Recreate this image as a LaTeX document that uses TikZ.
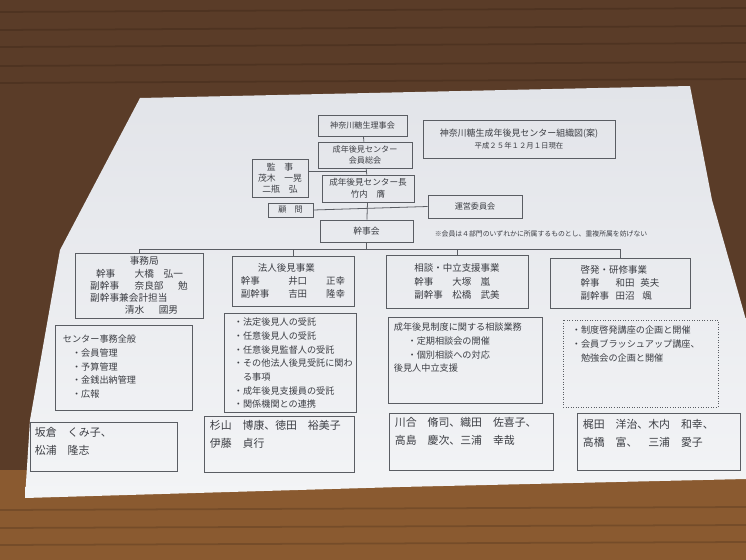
\documentclass[tikz,border=0pt]{standalone}
\usepackage{fontspec}
\setmainfont{Noto Sans CJK JP}
\usetikzlibrary{calc}
\newcommand{\pxu}{0.02cm}
\definecolor{woodc}{HTML}{5A3C28}
\definecolor{woodlow}{HTML}{8A5A30}
\definecolor{grain}{HTML}{3A2416}
\definecolor{papertop}{HTML}{E2E4E9}
\definecolor{paperlow}{HTML}{F3F4F6}
\definecolor{linec}{HTML}{5A5D63}
\definecolor{inkc}{HTML}{3C3E44}

\begin{document}
\begin{tikzpicture}[x=0.02cm,y=-0.02cm,
    box/.style={draw=linec, line width=0.45pt, inner sep=0pt, text=inkc},
    dept/.style={box, font=\fontsize{5.4}{7.6}\selectfont, align=left},
    top/.style={box, font=\fontsize{4.6}{5.8}\selectfont, align=center},
    body/.style={inner sep=0pt, text=inkc, align=left, font=\fontsize{5.2}{7.8}\selectfont},
    names/.style={inner sep=0pt, text=inkc, align=left, font=\fontsize{6.2}{10.6}\selectfont},
    link/.style={draw=linec, line width=0.45pt}]
  \useasboundingbox (0,0) rectangle (746,560);

  % table and sheet
  \fill[woodc] (0,0) rectangle (746,560);
  \fill[woodlow] (0,470) rectangle (746,560);
  \foreach \yy in {12,30,47,66,83}
    \draw[grain, opacity=0.35, line width=1pt] (0,\yy) -- (746,\yy-4);
  \foreach \yy in {510,528,545}
    \draw[grain, opacity=0.25, line width=1pt] (0,\yy) -- (746,\yy-3);
  \shade[top color=papertop, bottom color=paperlow]
    (140,98) -- (690,86) -- (712,200) -- (746,320) -- (746,479)
    -- (400,487) -- (25,498) -- (30,420) -- (60,250) -- cycle;

  % upper part
  \node[top, minimum width=89*\pxu, minimum height=21*\pxu] (rijikai) at (362.5,125.5) {神奈川糖生理事会};
  \node[top, minimum width=94*\pxu, minimum height=26*\pxu] (soukai) at (365,155) {成年後見センター\\会員総会};
  \node[top, minimum width=56*\pxu, minimum height=38*\pxu, font=\fontsize{5}{6.3}\selectfont] (kanji) at (280,178) {監　事\\茂木　一晃\\二瓶　弘};
  \node[top, minimum width=92*\pxu, minimum height=27*\pxu, font=\fontsize{4.9}{6.6}\selectfont] (chou) at (368,188.5) {成年後見センター長\\竹内　膺};
  \node[top, minimum width=45*\pxu, minimum height=14*\pxu] (komon) at (290.5,210) {顧　問};
  \node[top, minimum width=94*\pxu, minimum height=23*\pxu] (unei) at (475,206.5) {運営委員会};
  \node[top, minimum width=93*\pxu, minimum height=22*\pxu, font=\fontsize{5}{6}\selectfont] (kanjikai) at (366.5,231) {幹事会};
  \node[top, minimum width=192*\pxu, minimum height=38*\pxu, font=\fontsize{5.1}{7}\selectfont] (title) at (519,139)
    {神奈川糖生成年後見センター組織図(案)\\{\fontsize{4.2}{5}\selectfont 平成２５年１２月１日現在}};
  \node[inner sep=0pt, text=inkc, font=\fontsize{3.9}{5}\selectfont] (note) at (541,234)
    {※会員は４部門のいずれかに所属するものとし、重複所属を妨げない};

  \coordinate (mid) at ($(soukai.south)!0.5!(chou.north)$);
  \coordinate (bus) at (366.5,249);
  \draw[link] (rijikai) -- (soukai);
  \draw[link] (soukai) -- (chou);
  \draw[link] (chou) -- (kanjikai);
  \draw[link] (kanji.east |- mid) -- (mid);
  \draw[link] (komon.east) -- (unei.west);
  \draw[link] (kanjikai) -- (bus);

  % departments
  \node[dept, minimum width=128*\pxu, minimum height=65*\pxu, font=\fontsize{5.5}{6.9}\selectfont] (jimu) at (139,285.5)
    {\hspace*{4.1em}事務局\\
     \makebox[4.6em][l]{\hspace{0.6em}幹事}大橋\hspace{1em}弘一\\
     \makebox[4.6em][l]{副幹事}奈良部\hspace{1.5em}勉\\
     副幹事兼会計担当\\
     \hspace*{3.6em}清水\hspace{1.5em}國男};
  \node[dept, minimum width=122*\pxu, minimum height=50*\pxu] (houjin) at (293,281)
    {\hspace*{1.8em}法人後見事業\\
     \makebox[5em][l]{幹事}井口\hspace{2em}正幸\\
     \makebox[5em][l]{副幹事}吉田\hspace{2em}隆幸};
  \node[dept, minimum width=142*\pxu, minimum height=53*\pxu] (soudan) at (457,281.5)
    {相談・中立支援事業\\
     \makebox[4em][l]{幹事}大塚\hspace{1em}嵐\\
     \makebox[4em][l]{副幹事}松橋\hspace{1em}武美};
  \node[dept, minimum width=140*\pxu, minimum height=50*\pxu] (keihatsu) at (620,283)
    {啓発・研修事業\\
     \makebox[3.7em][l]{幹事}和田\hspace{0.6em}英夫\\
     \makebox[3.7em][l]{副幹事}田沼\hspace{0.8em}颯};

  \draw[link] (jimu.north) |- (keihatsu.north |- bus) -- (keihatsu.north);
  \draw[link] (houjin.north) -- (houjin.north |- bus);
  \draw[link] (soudan.north) -- (soudan.north |- bus);

  % duties
  \node[box, minimum width=137*\pxu, minimum height=85*\pxu] (duty1) at (123.5,367.5) {};
  \node[box, minimum width=132*\pxu, minimum height=99*\pxu] (duty2) at (290,362.5) {};
  \node[box, minimum width=154*\pxu, minimum height=86*\pxu] (duty3) at (465,360) {};
  \node[box, densely dotted, minimum width=155*\pxu, minimum height=87*\pxu] (duty4) at (640.5,363.5) {};

  \node[body, anchor=north west] (duty1t) at ([shift={(8,10)}]duty1.north west)
    {センター事務全般\\
     \hspace*{1em}・会員管理\\
     \hspace*{1em}・予算管理\\
     \hspace*{1em}・金銭出納管理\\
     \hspace*{1em}・広報};
  \node[body, anchor=north west] (duty2t) at ([shift={(10,5)}]duty2.north west)
    {・法定後見人の受託\\
     ・任意後見人の受託\\
     ・任意後見監督人の受託\\
     ・その他法人後見受託に関わ\\
     \hspace*{1em}る事項\\
     ・成年後見支援員の受託\\
     ・関係機関との連携};
  \node[body, anchor=north west] (duty3t) at ([shift={(6,6)}]duty3.north west)
    {成年後見制度に関する相談業務\\
     \hspace*{1.5em}・定期相談会の開催\\
     \hspace*{1.5em}・個別相談への対応\\
     後見人中立支援};
  \node[body, anchor=north west] (duty4t) at ([shift={(9,6)}]duty4.north west)
    {・制度啓発講座の企画と開催\\
     ・会員ブラッシュアップ講座、\\
     \hspace*{1em}勉強会の企画と開催};

  % members
  \node[box, minimum width=147*\pxu, minimum height=49*\pxu] (name1) at (103.5,446.5) {};
  \node[box, minimum width=150*\pxu, minimum height=56*\pxu] (name2) at (279,444) {};
  \node[box, minimum width=164*\pxu, minimum height=57*\pxu] (name3) at (471,441.5) {};
  \node[box, minimum width=163*\pxu, minimum height=57*\pxu] (name4) at (658.5,441.5) {};

  \node[names, anchor=north west] (name1t) at ([shift={(5,5)}]name1.north west)
    {坂倉\hspace{1em}くみ子、\\松浦\hspace{1em}隆志};
  \node[names, anchor=north west] (name2t) at ([shift={(6,4)}]name2.north west)
    {杉山\hspace{1em}博康、徳田\hspace{1em}裕美子\\伊藤\hspace{1em}貞行};
  \node[names, anchor=north west] (name3t) at ([shift={(6,4)}]name3.north west)
    {川合\hspace{1em}脩司、織田\hspace{1em}佐喜子、\\高島\hspace{1em}慶次、三浦\hspace{1em}幸哉};
  \node[names, anchor=north west] (name4t) at ([shift={(6,6)}]name4.north west)
    {梶田\hspace{1em}洋治、木内\hspace{1em}和幸、\\高橋\hspace{1em}富、\hspace{1em}三浦\hspace{1em}愛子};
\end{tikzpicture}
\end{document}
